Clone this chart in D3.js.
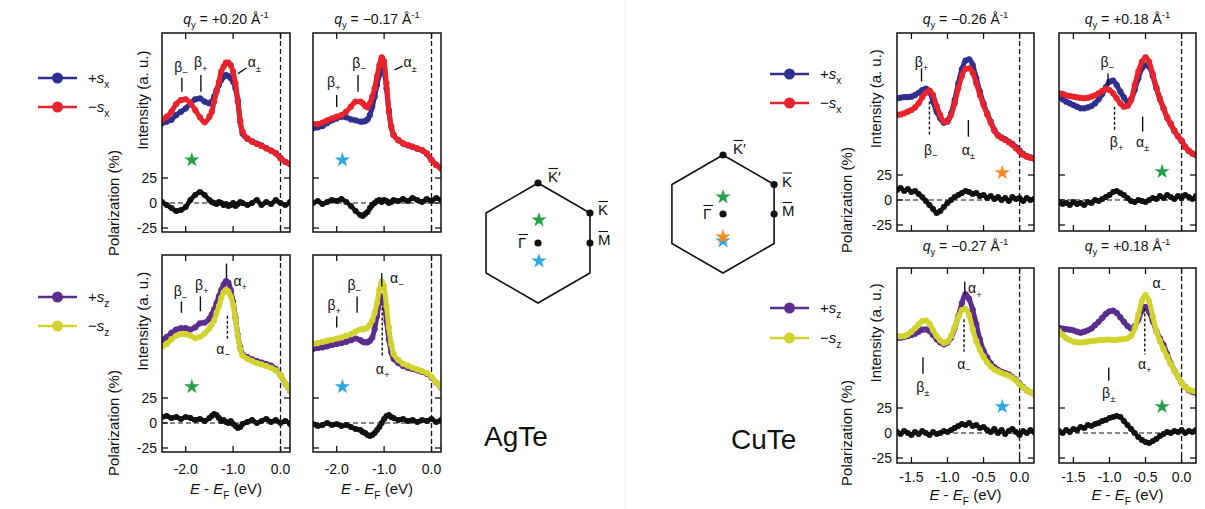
<!DOCTYPE html>
<html><head><meta charset="utf-8">
<script src="https://cdn.jsdelivr.net/npm/d3@7"></script>
<style>body{margin:0;background:#fff}svg{font-family:"Liberation Sans",Arial,Helvetica,sans-serif}</style>
</head><body><svg id="c" width="1205" height="509"></svg>
<script>
// ---------------- DATA ----------------
// energy grids (eV, E - E_F)
const agE = [-2.5,-2.4,-2.3,-2.2,-2.1,-2.0,-1.9,-1.8,-1.7,-1.6,
  -1.5,-1.45,-1.4,-1.35,-1.3,-1.25,-1.2,-1.15,-1.1,-1.05,-1.0,-0.95,-0.9,-0.85,-0.8,
  -0.7,-0.6,-0.5,-0.4,-0.3,-0.2,-0.1,0.0,0.1,0.2];
const cuE = [-1.7,-1.65,-1.6,-1.55,-1.5,-1.45,-1.4,-1.35,-1.3,-1.25,-1.2,-1.15,-1.1,-1.05,-1.0,
  -0.95,-0.9,-0.85,-0.8,-0.75,-0.7,-0.65,-0.6,-0.55,-0.5,-0.45,-0.4,-0.35,-0.3,-0.25,-0.2,
  -0.15,-0.1,-0.05,0.0,0.05,0.1,0.15,0.2];

// AgTe, q_y = +0.20 (s_x)
const agA_plus  = [35.5,36.7,38,41.4,43.8,46.2,49.8,52.6,53.3,51, 49.8,51,54.5,59.3,62.9,66.4,68.8,70,69.3,67.6,65.2,60.5,51,36.7,28.3, 24.5,22.6,21,19.7,17.8,16,14.3,10.8,8,6.5];
const agA_minus = [37.9,40.2,43.8,49.3,52,52.6,49.8,45,39.8,36.2, 40.2,43.8,51,58,65,72.4,76,78.8,78.8,77,72.4,64,52,36.7,29.5, 24.8,22.4,20.7,19.3,17.6,15.9,14,10.5,8,6.4];
const agA_pol   = [1,-2,-5,-8,-7,-4,3,8,11,8, 3,1,0,-1,1,0,-2,-1,-3,-2,0,-3,-1,1,0, -2,0,3,-2,1,-1,3,0,-2,1];
// AgTe, q_y = -0.17 (s_x)
const agB_plus  = [31.9,32.6,33.6,35.7,37.6,39,40.2,39.8,38.3,37.6, 36.7,36.7,37.1,38.3,41.4,47.4,54.5,62.9,70,74,72.4,60.5,44,33,27.1, 23.4,21,19.8,18.6,17.4,16.2,13.8,9.3,5.8,3.4];
const agB_minus = [35,35,36,37.6,39,40.2,41.4,43.8,47.4,51, 51,49.8,47.9,46.9,49.8,54.5,60.5,68.8,77,82.6,79.5,64,45,33.1,27.1, 23.6,21.2,20,18.8,17.6,16.4,14,9.3,5.7,3.3];
const agB_pol   = [0,2,-1,1,3,2,4,1,-3,-8, -12,-13,-11,-9,-5,-2,0,2,3,1,3,2,0,1,3, 2,4,2,5,3,1,4,2,5,3];
// AgTe, q_y = +0.20 (s_z)
const agC_plus  = [38.5,40.5,43.5,46,47,47,46,47.5,50.5,51, 54,57,60.5,65,70,74.5,78.5,81,80,74.5,66,54.5,42,33,28, 26,24.3,23.1,22.1,21,19.8,17.3,12.9,6.9,1.7];
const agC_minus = [33.6,35.5,39,41.4,42.6,42.6,41.4,39.8,40.7,43.1, 46.9,49.8,52.6,58,63,68.8,73,74.8,73.6,70,64,53.3,41.4,31.9,27.1, 24.8,23.1,21.7,20.7,19.5,18.3,16.4,12.9,6.9,1.7];
const agC_pol   = [6,7,5,6,4,6,5,3,4,2, 5,7,9,8,5,2,3,1,0,2,-1,-3,-5,-4,-1, 1,3,0,2,4,1,3,0,2,-1];
// AgTe, q_y = -0.17 (s_z)
const agD_plus  = [31.9,32.6,33.1,33.8,34.8,35.5,36.2,37.1,38.3,39.5, 38.3,37.1,36.7,36.7,37.9,40.2,46.2,55.7,65.2,70,65.2,52.1,39,29.5,24.8, 21.7,19.5,18.3,17.4,16.4,15.2,14,11.2,7.4,4];
const agD_minus = [35.5,36.2,37.1,37.9,38.6,39.5,40.2,41.4,42.6,44.5, 46.2,46.2,46.7,47.4,49.3,52.6,58,65.2,74.8,80.7,77.1,63,47.4,35.5,28.3, 24,21.2,19.8,18.3,17.1,15.9,14.5,11.7,7.4,4];
const agD_pol   = [-1,-3,-2,0,-2,-1,-3,-2,-4,-6, -7,-9,-10,-12,-13,-12,-10,-7,-4,0,4,7,8,6,5, 3,4,2,3,1,3,2,4,1,3];

// CuTe, q_y = -0.26 (s_x)
const cuA_plus  = [52.3,52.8,53.2,53.2,53.5,54.7,56.4,58.4,59.4,57.2,49.9,42.6,37.7,34.5,36,41.4,51.1,63.3,73.5,79.8,80.8,76.6,66.9,57.2,48.7,41.4,35.3,29.2,25.5,23.8,22.4,20.7,19,16.5,14.1,11.7,10.2,9.2,8.5];
const cuA_minus = [40.1,40.6,41.4,42.6,43.8,45.7,48.7,53.1,56.4,57.9,54.7,46.7,40.1,35.3,35.3,40.1,48.7,59.6,68.6,73.7,74.2,71,63.3,54.7,47.4,40.6,34.5,28.7,25.1,23.4,21.9,20.2,18.5,15.8,13.4,11.2,9.7,9,8.3];
const cuA_pol   = [10,12,9,11,8,9,6,3,-1,-5,-9,-13,-11,-7,-3,0,3,5,7,9,8,6,7,4,5,2,4,1,3,0,2,-1,3,1,2,-1,2,0,1];
// CuTe, q_y = +0.18 (s_x)
const cuB_plus  = [53.5,51.6,49.9,48.7,47.4,46.2,45,45,45.7,46.7,48.7,51.6,55.5,60.3,64.5,65.2,62,57.2,53,49.9,51.6,58.4,66.9,74.2,76.6,75.4,68.6,59.6,51.6,44.8,38.2,33.4,28.5,24.6,21.2,16.8,13.9,12,10.8];
const cuB_minus = [56,55.5,54.5,54,53.5,53,52.6,52.3,52.8,53.5,54.5,56,57.7,59.1,58.4,56,52.3,48.7,46.2,46.7,51.1,62,71.8,79,82.2,79,70.1,60.3,52.3,45,38.4,33.6,28.7,24.8,21.4,17,14.1,12.2,11];
const cuB_pol   = [-2,-4,-3,-5,-2,-4,-3,-5,-2,-3,0,-1,1,3,5,8,9,7,5,2,-1,-2,0,-1,-2,0,2,1,4,2,5,3,1,4,2,5,3,1,4];
// CuTe, q_y = -0.27 (s_z)
const cuC_plus  = [48.4,48.4,48.9,49.6,50.4,51.3,52.8,54.3,54.5,53.3,50.4,47.2,44.8,43.6,44.8,48.4,55.3,64.2,74,80.5,77.1,69.1,58.2,47.2,38.7,33.8,29.4,26.5,24.6,23.1,22.1,21.2,19.2,17.3,14.4,11.7,9.5,8,7.1];
const cuC_minus = [49.6,49.4,49.6,50.9,52.8,55.3,58.2,60.6,61.1,58.7,53.8,49.6,46.4,44.5,45.5,49.6,56.2,63.5,68.9,69.8,65,54.5,46,39.2,34.3,30.2,27,24.8,23.4,22.1,21.2,20.2,18.7,16.8,13.9,11.4,9.5,8,7.1];
const cuC_pol   = [1,-1,2,0,-2,1,-1,2,0,-2,1,-1,0,2,1,3,5,7,9,8,10,7,8,5,6,3,1,4,0,3,-1,2,4,1,-2,2,0,3,1];
// CuTe, q_y = +0.18 (s_z)
const cuD_plus  = [55.7,55.2,54.7,54.3,53.8,52.8,52.1,52.8,53.8,55.2,57.7,60.1,63,66,67.9,68.4,66.7,63.5,60.1,57,55.2,57,61.8,68.4,71.3,67.4,60.6,53.3,47.9,43.1,36.3,29.4,24.1,19.7,14.8,11.9,9.5,8.3,7.5];
const cuD_minus = [53.3,50.4,48,46.5,45.5,45,44.8,45,45.5,46,46.2,46.5,46.7,47,47,46.7,46.7,47.2,47.4,47.9,49.6,55.2,65.5,75.7,80,75.2,64.2,53.3,46,39.9,34.3,28.9,24.1,19.7,14.8,11.9,10,9,8.3];
const cuD_pol   = [2,0,3,1,4,3,6,5,8,7,9,10,12,13,15,16,17,16,12,8,4,0,-4,-7,-9,-10,-8,-6,-3,-1,1,0,2,1,3,0,2,1,3];

// titles (q_y values)
const qTitles = {agA:'+0.20', agB:'\u22120.17', cuA:'\u22120.26', cuB:'+0.18', cuC:'\u22120.27', cuD:'+0.18'};
// tick labels
const agTicks = [-2,-1,0], agTickLabels = ['-2.0','-1.0','0.0'];
const cuTicks = [-1.5,-1,-0.5,0], cuTickLabels = ['-1.5','-1.0','-0.5','0.0'];
const polTicks = [25,0,-25], polTickLabels = ['25','0','-25'];

// peak annotations: letter, subscript, label (E, intensity), marker [E1,I1,E2,I2], dashed
const annAgA = [{g:'\u03b2',s:'\u2212',x:-2.1,y:76,t:[-2.08,68,-2.08,58]},{g:'\u03b2',s:'+',x:-1.68,y:79,t:[-1.68,70,-1.68,58]},{g:'\u03b1',s:'\u00b1',x:-0.55,y:79,t:[-0.9,71,-0.72,75]}];
const annAgB = [{g:'\u03b2',s:'+',x:-2.06,y:65,t:[-2.0,55.7,-2.0,47.1]},{g:'\u03b2',s:'\u2212',x:-1.53,y:78.6,t:[-1.55,70,-1.55,58]},{g:'\u03b1',s:'\u00b1',x:-0.45,y:79,t:[-0.78,73.6,-0.61,76.4]}];
const annAgC = [{g:'\u03b2',s:'\u2212',x:-2.11,y:73.6,t:[-2.09,66.4,-2.09,58.1]},{g:'\u03b2',s:'+',x:-1.66,y:78.3,t:[-1.69,70,-1.69,59.3]},{g:'\u03b1',s:'+',x:-0.85,y:81,t:[-1.14,93.8,-1.14,83]},{g:'\u03b1',s:'\u2212',x:-1.21,y:32,t:[-1.12,56,-1.12,38],d:1}];
const annAgD = [{g:'\u03b2',s:'+',x:-2.05,y:64,t:[-2.0,55.7,-2.0,47.4]},{g:'\u03b2',s:'\u2212',x:-1.63,y:78.3,t:[-1.57,70,-1.57,58.1]},{g:'\u03b1',s:'\u2212',x:-0.73,y:83,t:[-1.05,86.7,-1.05,77.1]},{g:'\u03b1',s:'+',x:-1.03,y:17.6,t:[-1.04,62,-1.04,26],d:1}];
const annCuA = [{g:'\u03b2',s:'+',x:-1.36,y:79,t:[-1.36,74.2,-1.36,64.5]},{g:'\u03b2',s:'\u2212',x:-1.23,y:14.6,t:[-1.25,50,-1.25,25],d:1},{g:'\u03b1',s:'\u00b1',x:-0.71,y:14.6,t:[-0.71,36.5,-0.71,24.3]}];
const annCuB = [{g:'\u03b2',s:'\u2212',x:-1.03,y:79,t:[-1.02,70.5,-1.02,62]},{g:'\u03b2',s:'+',x:-0.9,y:20.7,t:[-0.93,46.2,-0.93,28],d:1},{g:'\u03b1',s:'\u00b1',x:-0.54,y:20.7,t:[-0.54,38.9,-0.54,28]}];
const annCuC = [{g:'\u03b2',s:'\u00b1',x:-1.34,y:11.9,t:[-1.34,33.8,-1.34,21.7]},{g:'\u03b1',s:'\u2212',x:-0.77,y:29,t:[-0.77,62,-0.77,38],d:1},{g:'\u03b1',s:'+',x:-0.62,y:84.9,t:[-0.76,89.8,-0.76,80]}];
const annCuD = [{g:'\u03b1',s:'\u2212',x:-0.31,y:88.6,t:null},{g:'\u03b1',s:'+',x:-0.51,y:28.9,t:[-0.51,70,-0.51,36],d:1},{g:'\u03b2',s:'\u00b1',x:-1.01,y:7.6,t:[-1.01,26.3,-1.01,16.5]}];

// star markers: [E, intensity, colour key]
const starAgA=[-1.87,9.3,'green'], starAgB=[-1.88,9.3,'sky'], starAgC=[-1.87,4.5,'green'], starAgD=[-1.88,4.5,'sky'];
const starCuA=[-0.24,-2,'orange'], starCuB=[-0.27,-1.2,'green'], starCuC=[-0.24,-2.7,'sky'], starCuD=[-0.27,-2.7,'green'];

// ---------------- STYLE / LAYOUT ----------------
const COL = {blue:'#2f2f8e', red:'#e8232b', purple:'#5a2d8e', yellow:'#d2d22e', black:'#111111',
             green:'#27a04a', sky:'#2aa8e0', orange:'#f28a26'};
const svg = d3.select('#c');
svg.append('rect').attr('width',1205).attr('height',509).attr('fill','#fff');
svg.append('line').attr('x1',625).attr('x2',625).attr('y1',0).attr('y2',509).attr('stroke','#efefef').attr('stroke-width',1);

function rich(g, x, y, parts, fs, anchor){
  const t = g.append('text').attr('x',x).attr('y',y).attr('font-size',fs)
    .attr('text-anchor',anchor||'start').attr('fill','#111');
  let cur = 0;
  parts.forEach(p=>{
    const o = typeof p==='string'?{t:p}:p;
    const target = o.sub? fs*0.3 : o.sup? -fs*0.42 : 0;
    const ts = t.append('tspan').text(o.t).attr('dy', target-cur);
    cur = target;
    if(o.sub||o.sup) ts.attr('font-size', fs*0.68);
    if(o.i) ts.attr('font-style','italic');
  });
  return t;
}

const layout = {
  ag:{dom:[-2.5,0.2], E:agE, xt:agTicks, xl:agTickLabels, x0:[162,313], w:128, tl:22, at:42,
      rows:[{y:33,h:199,pm:-29,ty:24},{y:255,h:197,pm:-29,ty:null}], ylab:{int:148,pol:119}},
  cu:{dom:[-1.7,0.2], E:cuE, xt:cuTicks, xl:cuTickLabels, x0:[897,1059], w:137, tl:19, at:37,
      rows:[{y:33,h:198,pm:-31,ty:24},{y:268,h:195,pm:-30,ty:251}], ylab:{int:881,pol:852}}
};

const panels = [
  {m:'ag',c:0,r:0,q:qTitles.agA,p:agA_plus,n:agA_minus,pol:agA_pol,ann:annAgA,star:starAgA,kind:'x'},
  {m:'ag',c:1,r:0,q:qTitles.agB,p:agB_plus,n:agB_minus,pol:agB_pol,ann:annAgB,star:starAgB,kind:'x'},
  {m:'ag',c:0,r:1,q:null,p:agC_plus,n:agC_minus,pol:agC_pol,ann:annAgC,star:starAgC,kind:'z'},
  {m:'ag',c:1,r:1,q:null,p:agD_plus,n:agD_minus,pol:agD_pol,ann:annAgD,star:starAgD,kind:'z'},
  {m:'cu',c:0,r:0,q:qTitles.cuA,p:cuA_plus,n:cuA_minus,pol:cuA_pol,ann:annCuA,star:starCuA,kind:'x'},
  {m:'cu',c:1,r:0,q:qTitles.cuB,p:cuB_plus,n:cuB_minus,pol:cuB_pol,ann:annCuB,star:starCuB,kind:'x'},
  {m:'cu',c:0,r:1,q:qTitles.cuC,p:cuC_plus,n:cuC_minus,pol:cuC_pol,ann:annCuC,star:starCuC,kind:'z'},
  {m:'cu',c:1,r:1,q:qTitles.cuD,p:cuD_plus,n:cuD_minus,pol:cuD_pol,ann:annCuD,star:starCuD,kind:'z'},
];

panels.forEach((P,idx)=>{
  const L = layout[P.m], R = L.rows[P.r];
  const w = L.w, h = R.h, X0 = L.x0[P.c], Y0 = R.y;
  const x = d3.scaleLinear().domain(L.dom).range([0,w]);
  const yp = d3.scaleLinear().domain([R.pm, R.pm+h]).range([h,0]);
  const yi = d3.scaleLinear().domain([0,100]).range([yp(30),0]);
  const g = svg.append('g').attr('transform',`translate(${X0},${Y0})`);
  const cid = 'clip'+idx;
  g.append('clipPath').attr('id',cid).append('rect').attr('width',w).attr('height',h);
  const d = g.append('g').attr('clip-path',`url(#${cid})`);
  // dashed reference lines
  d.append('line').attr('x1',x(0)).attr('x2',x(0)).attr('y1',0).attr('y2',h)
    .attr('stroke','#111').attr('stroke-width',1.3).attr('stroke-dasharray','5,3');
  d.append('line').attr('x1',0).attr('x2',w).attr('y1',yp(0)).attr('y2',yp(0))
    .attr('stroke','#111').attr('stroke-width',1.2).attr('stroke-dasharray','5,3');
  const c1 = P.kind==='x'?COL.blue:COL.purple, c2 = P.kind==='x'?COL.red:COL.yellow;
  const line = d3.line().curve(d3.curveMonotoneX);
  function series(vals, scale, color, sw, r){
    const pts = L.E.map((e,i)=>[x(e), scale(vals[i])]);
    d.append('path').attr('d',line(pts)).attr('fill','none').attr('stroke',color)
      .attr('stroke-width',sw).attr('stroke-linejoin','round').attr('stroke-linecap','round');
    d.append('g').selectAll('circle').data(pts).join('circle')
      .attr('cx',p=>p[0]).attr('cy',p=>p[1]).attr('r',r).attr('fill',color);
  }
  series(P.p, yi, c1, 5, 3.1);
  series(P.n, yi, c2, 5, 3.1);
  series(P.pol, yp, COL.black, 4.5, 3);
  // annotations
  P.ann.forEach(a=>{
    if(a.t){
      g.append('line').attr('x1',x(a.t[0])).attr('y1',yi(a.t[1])).attr('x2',x(a.t[2])).attr('y2',yi(a.t[3]))
        .attr('stroke','#111').attr('stroke-width',1.4).attr('stroke-dasharray',a.d?'3,2':null);
    }
    rich(g, x(a.x), yi(a.y)+5, [a.g,{t:a.s,sub:1}], 14, 'middle');
  });
  // star
  g.append('path').attr('d',d3.symbol(d3.symbolStar).size(72)())
    .attr('transform',`translate(${x(P.star[0])},${yi(P.star[1])})`).attr('fill',COL[P.star[2]]);
  // frame
  g.append('rect').attr('width',w).attr('height',h).attr('fill','none').attr('stroke','#111').attr('stroke-width',1.5);
  L.xt.forEach(t=>{
    g.append('line').attr('x1',x(t)).attr('x2',x(t)).attr('y1',0).attr('y2',6).attr('stroke','#111').attr('stroke-width',1.3);
    g.append('line').attr('x1',x(t)).attr('x2',x(t)).attr('y1',h).attr('y2',h-6).attr('stroke','#111').attr('stroke-width',1.3);
  });
  polTicks.forEach(t=>{
    g.append('line').attr('x1',0).attr('x2',6).attr('y1',yp(t)).attr('y2',yp(t)).attr('stroke','#111').attr('stroke-width',1.3);
    g.append('line').attr('x1',w).attr('x2',w-6).attr('y1',yp(t)).attr('y2',yp(t)).attr('stroke','#111').attr('stroke-width',1.3);
  });
  // labels
  if(P.q){
    rich(svg, X0+w/2, R.ty, [{t:'q',i:1},{t:'y',sub:1},{t:' = '+P.q+' \u00c5'},{t:'-1',sup:1}], 14, 'middle');
  }
  if(P.c===0){
    polTicks.forEach((t,i)=>{
      svg.append('text').attr('x',X0-5).attr('y',Y0+yp(t)+5).attr('text-anchor','end')
        .attr('font-size',14).attr('fill','#111').text(polTickLabels[i]);
    });
    const gi = svg.append('g').attr('transform',`translate(${L.ylab.int},${Y0+yi(52)}) rotate(-90)`);
    gi.append('text').attr('text-anchor','middle').attr('font-size',15).attr('fill','#111').text('Intensity (a. u.)');
    const gp = svg.append('g').attr('transform',`translate(${L.ylab.pol},${Y0+yp(0)}) rotate(-90)`);
    gp.append('text').attr('text-anchor','middle').attr('font-size',15).attr('fill','#111').text('Polarization (%)');
  }
  if(P.r===1){
    L.xt.forEach((t,i)=>{
      svg.append('text').attr('x',X0+x(t)).attr('y',Y0+h+L.tl).attr('text-anchor','middle')
        .attr('font-size',14).attr('fill','#111').text(L.xl[i]);
    });
    rich(svg, X0+w/2, Y0+h+L.at, [{t:'E',i:1},{t:' - '},{t:'E',i:1},{t:'F',sub:1},{t:' (eV)'}], 15, 'middle');
  }
});

// legends
const legends = [
  {x:38,y:78,c:COL.blue,t:'+',s:'x'},{x:38,y:107,c:COL.red,t:'\u2212',s:'x'},
  {x:38,y:297,c:COL.purple,t:'+',s:'z'},{x:38,y:326,c:COL.yellow,t:'\u2212',s:'z'},
  {x:770,y:74,c:COL.blue,t:'+',s:'x'},{x:770,y:103,c:COL.red,t:'\u2212',s:'x'},
  {x:770,y:308,c:COL.purple,t:'+',s:'z'},{x:770,y:338,c:COL.yellow,t:'\u2212',s:'z'}
];
legends.forEach(l=>{
  svg.append('line').attr('x1',l.x).attr('x2',l.x+39).attr('y1',l.y).attr('y2',l.y).attr('stroke',l.c).attr('stroke-width',2.5);
  svg.append('circle').attr('cx',l.x+19.5).attr('cy',l.y).attr('r',5.5).attr('fill',l.c);
  rich(svg, l.x+50, l.y+5, [l.t,{t:'s',i:1},{t:l.s,sub:1}], 15, 'start');
});

// Brillouin zones
function bz(cx, cy, R, stars){
  const g = svg.append('g');
  const verts = [0,1,2,3,4,5].map(k=>{const a=Math.PI/2 - k*Math.PI/3; return [cx+R*Math.cos(a), cy-R*Math.sin(a)];});
  g.append('path').attr('d', d3.line()(verts)+'Z').attr('fill','none').attr('stroke','#111').attr('stroke-width',1.6);
  const K1 = verts[0], K = verts[1], M = [verts[1][0], cy];
  [K1,K,M,[cx,cy]].forEach(p=>g.append('circle').attr('cx',p[0]).attr('cy',p[1]).attr('r',3.6).attr('fill','#111'));
  function barLabel(x,y,txt,extra){
    g.append('text').attr('x',x).attr('y',y).attr('font-size',15).attr('fill','#111').text(txt+(extra||''));
    g.append('line').attr('x1',x+0.5).attr('x2',x+10).attr('y1',y-13.5).attr('y2',y-13.5).attr('stroke','#111').attr('stroke-width',1.1);
  }
  barLabel(K1[0]+10, K1[1]-1, 'K', '\u2032');
  barLabel(K[0]+8, K[1]+2, 'K');
  barLabel(M[0]+8, M[1]+2, 'M');
  barLabel(cx-20, cy+5, '\u0393');
  stars.forEach(s=>g.append('path').attr('d',d3.symbol(d3.symbolStar).size(72)())
    .attr('transform',`translate(${cx+s[0]},${cy+s[1]})`).attr('fill',COL[s[2]]));
}
bz(538, 243, 60, [[1,-23,'green'],[1,18,'sky']]);
bz(723, 214, 59, [[0,-17,'green'],[0,27,'sky'],[0,23,'orange']]);

svg.append('text').attr('x',484).attr('y',446).attr('font-size',28).attr('fill','#111').text('AgTe');
svg.append('text').attr('x',731).attr('y',449).attr('font-size',28).attr('fill','#111').text('CuTe');
</script></body></html>
